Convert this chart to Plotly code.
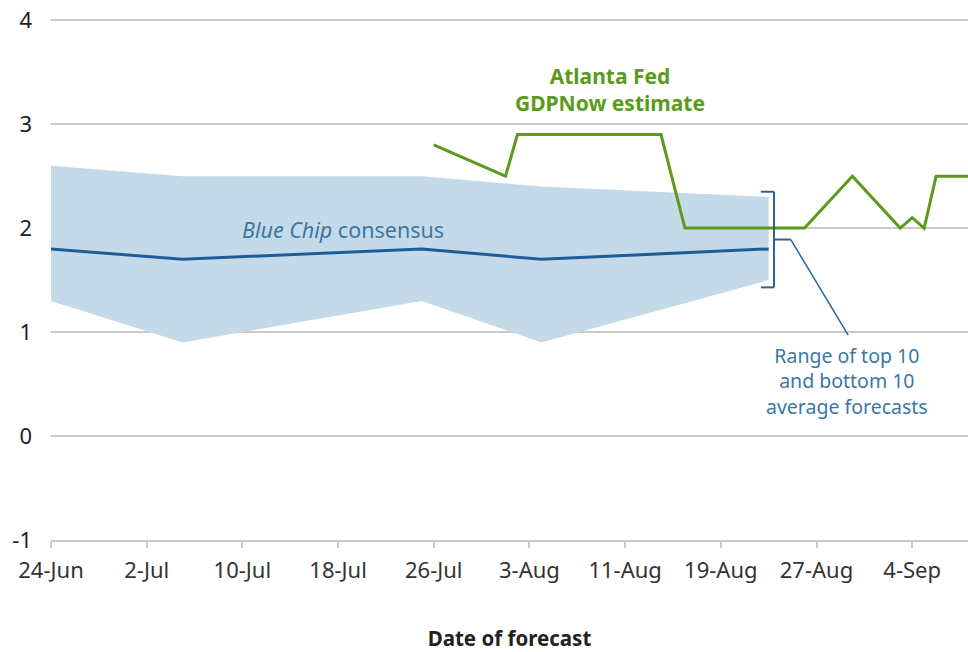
import plotly.graph_objects as go
from datetime import datetime, timedelta

# ---- data ----
bc_dates = ["2019-06-24", "2019-07-05", "2019-07-25", "2019-08-04", "2019-08-23"]
bc_consensus = [1.8, 1.7, 1.8, 1.7, 1.8]
bc_top10 = [2.6, 2.5, 2.5, 2.4, 2.3]
bc_bottom10 = [1.3, 0.9, 1.3, 0.9, 1.5]

gdpnow_dates = ["2019-07-26", "2019-08-01", "2019-08-02", "2019-08-14", "2019-08-16",
                "2019-08-26", "2019-08-30", "2019-09-03", "2019-09-04", "2019-09-05",
                "2019-09-06", "2019-09-10"]
gdpnow_values = [2.8, 2.5, 2.9, 2.9, 2.0, 2.0, 2.5, 2.0, 2.1, 2.0, 2.5, 2.5]

tick_dates = ["2019-06-24", "2019-07-02", "2019-07-10", "2019-07-18", "2019-07-26",
              "2019-08-03", "2019-08-11", "2019-08-19", "2019-08-27", "2019-09-04"]
tick_labels = ["24-Jun", "2-Jul", "10-Jul", "18-Jul", "26-Jul",
               "3-Aug", "11-Aug", "19-Aug", "27-Aug", "4-Sep"]
y_ticks = [-1, 0, 1, 2, 3, 4]
y_labels = ["-1", "0", "1", "2", "3", "4"]

FONT = "Noto Sans"
BLUE = "#1d5d97"
BAND = "#c5dae8"
GREEN = "#5a9a1c"
NOTE_BLUE = "#3b77a6"
GRID = "#c9c9c9"

def shift(date_str, days):
    return (datetime.strptime(date_str, "%Y-%m-%d") + timedelta(days=days)).strftime("%Y-%m-%d %H:%M")

fig = go.Figure()
fig.add_trace(go.Scatter(x=bc_dates, y=bc_bottom10, mode="lines", line=dict(width=0),
                         hoverinfo="skip", showlegend=False))
fig.add_trace(go.Scatter(x=bc_dates, y=bc_top10, mode="lines", line=dict(width=0),
                         fill="tonexty", fillcolor=BAND, hoverinfo="skip", showlegend=False))
fig.add_trace(go.Scatter(x=bc_dates, y=bc_consensus, mode="lines",
                         line=dict(color=BLUE, width=3), showlegend=False))
fig.add_trace(go.Scatter(x=gdpnow_dates, y=gdpnow_values, mode="lines",
                         line=dict(color=GREEN, width=3), showlegend=False))

# bracket around the last range
last = bc_dates[-1]
bx = shift(last, 0.45)
btop = bc_top10[-1] + 0.05
bbot = bc_bottom10[-1] - 0.07
bmid = (btop + bbot) / 2
line_style = dict(color="#2a6496", width=2)
shapes = [
    dict(type="line", xref="x", yref="y", x0=shift(last, -0.65), x1=bx, y0=btop, y1=btop, line=line_style),
    dict(type="line", xref="x", yref="y", x0=bx, x1=bx, y0=btop, y1=bbot, line=line_style),
    dict(type="line", xref="x", yref="y", x0=shift(last, -0.65), x1=bx, y0=bbot, y1=bbot, line=line_style),
    dict(type="line", xref="x", yref="y", x0=bx, x1=shift(last, 1.85), y0=bmid, y1=bmid, line=line_style),
    dict(type="line", xref="x", yref="y", x0=shift(last, 1.85), x1=shift(last, 6.65), y0=bmid, y1=0.97,
         line=dict(color="#2a6496", width=1.5)),
]

annotations = [
    dict(x=shift("2019-07-18", 0.4), y=1.99, xref="x", yref="y", showarrow=False,
         text="<i>Blue Chip</i> consensus", font=dict(family=FONT, size=21.5, color=NOTE_BLUE)),
    dict(x=shift("2019-08-09", 0.7), y=3.33, xref="x", yref="y", showarrow=False,
         text="<b>Atlanta Fed<br>GDPNow estimate</b>", font=dict(family=FONT, size=21, color=GREEN)),
    dict(x=shift("2019-08-29", 14 / 24), y=0.53, xref="x", yref="y", showarrow=False,
         text="Range of top 10<br>and bottom 10<br>average forecasts",
         font=dict(family=FONT, size=19.5, color=NOTE_BLUE)),
]

fig.update_layout(
    width=968, height=652,
    margin=dict(l=51, r=0, t=15, b=112),
    paper_bgcolor="white", plot_bgcolor="white",
    font=dict(family=FONT, size=17, color="#333333"),
    shapes=shapes, annotations=annotations,
    xaxis=dict(type="date", range=["2019-06-24", "2019-09-08 16:00"],
               tickvals=tick_dates, ticktext=tick_labels,
               showgrid=False, showline=True, linecolor=GRID, linewidth=2,
               ticks="outside", ticklen=6, tickcolor=GRID, tickwidth=2,
               ticklabelstandoff=4,
               tickfont=dict(size=22, color="#333333"),
               title=dict(text="<b>Date of forecast</b>", standoff=48,
                          font=dict(size=20.5, color="#222222"))),
    yaxis=dict(range=[-1, 4.05], tickvals=y_ticks, ticktext=y_labels,
               showgrid=True, gridcolor=GRID, gridwidth=2,
               zeroline=False, showline=False, ticks="", ticklabelstandoff=18,
               tickfont=dict(size=22, color="#222222")),
)

fig.write_html("out.html")
